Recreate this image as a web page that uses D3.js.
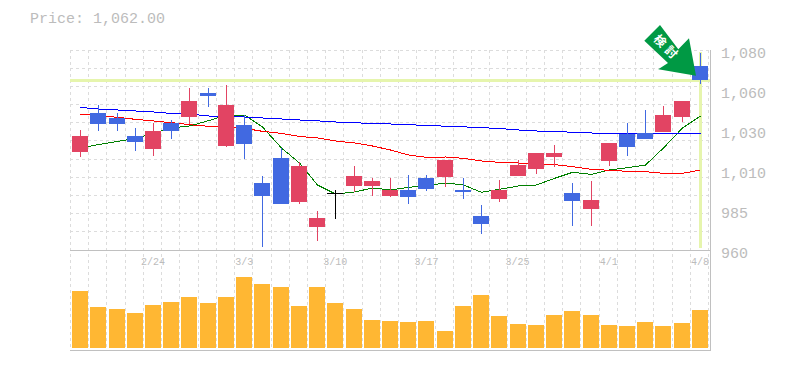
<!DOCTYPE html>
<html lang='en'>
	<head>
		<meta charset='utf-8'>
		<title>Price chart</title>
		<script src="https://cdn.jsdelivr.net/npm/d3@7/dist/d3.min.js"></script>
		<style>
			html, body { margin: 0; padding: 0; background: #fff; }
			svg { display: block; }
			text { font-family: 'Liberation Mono', monospace; fill: #bcbcbc; }
		</style>
	</head>
	<body>
		<svg id='chart' width='785' height='370'></svg>
		<script>
			var dates = ['2/18','2/19','2/20','2/21','2/24','2/25','2/26','2/27','2/28','3/3','3/4','3/5','3/6','3/7','3/10','3/11','3/12','3/13','3/14','3/17','3/18','3/19','3/21','3/24','3/25','3/26','3/27','3/28','3/31','4/1','4/2','4/3','4/4','4/7','4/8'];
			var dateTicks = ['2/24','3/3','3/10','3/17','3/25','4/1','4/8'];

			var open = [1018.8,1042.2,1039.2,1028.4,1020.6,1036.2,1039.8,1054.2,1022.4,1035,1000.2,1015.2,988.8,973.8,994.2,998.4,998.4,992.4,996,1003.2,1003.8,996,980.4,990.6,1004.4,1008.6,1015.8,994.2,984.6,1013.4,1029.6,1030.2,1030.8,1039.8,1070.4];
			var close = [1028.4,1035.6,1035.6,1024.8,1031.4,1031.4,1049.4,1052.4,1047,1023.6,992.4,987.6,1010.4,979.2,994.2,1004.4,1001.4,996,991.8,996.6,1014,994.8,975.6,996,1011,1018.2,1018.2,989.4,990,1024.2,1021.8,1026.6,1041,1049.4,1062];
			var high = [1032,1047,1042.2,1033.2,1036.2,1038,1057.2,1057.2,1059,1041,1004.4,1021.2,1012.8,983.4,996,1010.4,1003.2,1003.2,1005,1005,1014,1003.2,987,1002,1014,1018.2,1023,1000.2,1001.4,1024.2,1036.2,1044,1046.4,1049.4,1078.2];
			var low = [1015.8,1031.4,1031.4,1019.4,1016.4,1026.6,1035.6,1045.8,1021.8,1014.6,961.8,987.6,987.6,965.4,978.6,994.8,992.4,991.8,987.6,995.4,997.8,990.6,969.6,988.8,1004.4,1005.6,1009.8,974.4,974.4,1010.4,1016.4,1026.6,1030.8,1036.8,1059.6];

			var maLong = [1045.5,1044.6,1044,1043.4,1042.8,1041.9,1041.6,1040.4,1040.1,1039.8,1039.2,1038.6,1038,1037.5,1036.8,1036.3,1036,1035.6,1035.2,1034.7,1034.3,1033.9,1033.4,1032.9,1032,1031.4,1031.2,1030.6,1030.2,1030,1030,1030,1030,1030,1030];
			var maMid = [1041.4,1040.8,1039.6,1038.4,1037.4,1036.4,1035.2,1034.2,1034.2,1033,1031.2,1030,1028.1,1027.2,1025.4,1024.2,1022.4,1020,1017,1015.6,1015.8,1015,1013.4,1012.6,1012.2,1011.6,1011.2,1010,1008.4,1007.8,1007.2,1007,1006,1006,1008];
			var maShort = [1021.2,1023.3,1025.1,1026.9,1030.2,1033.2,1034.4,1037.6,1041,1041,1033.8,1021.2,1012.2,999,993.6,994.8,997.2,996,997.6,998.6,1000.2,999,994.6,996.4,998.4,999,1003,1006.6,1005.4,1008,1009.4,1011,1021.2,1033.2,1040.4];

			var volume = [57,41,39,35,43,46,51,45,51,71,64,61,42,61,45,39,28,27,26,27,17,42,53,32,24,23,33,37,33,23,22,26,22,25,38];

			var priceTicks = [1080,1056,1032,1008,984,960];
			var priceLabels = ['1,080','1,060','1,030','1,010','985','960'];
			var lastPrice = 1062;
			var arrowLabel = '検討';

			var svg = d3.select('#chart');

			var x = d3.scaleBand().domain(d3.range(dates.length)).range([71, 709]);
			var y = d3.scaleLinear().domain([960, 1080]).range([250, 50]);
			var yVol = d3.scaleLinear().domain([0, 100]).range([348, 248]);
			var barX = function(i){ return Math.round(x(i) + 1.1); };
			var midX = function(i){ return barX(i) + 8.5; };

			// grid
			var grid = svg.append('g')
				.attr('stroke', '#dcdcdc')
				.attr('stroke-dasharray', '3,3')
				.attr('shape-rendering', 'crispEdges');
			grid.selectAll('.h')
				.data(d3.range(0, 11))
				.enter().append('line')
				.attr('x1', 70).attr('x2', 709)
				.attr('y1', function(d){ return Math.floor(y(1080 - d * 120 / 11)) + 0.5; })
				.attr('y2', function(d){ return Math.floor(y(1080 - d * 120 / 11)) + 0.5; });
			grid.selectAll('.v')
				.data(d3.range(0, dates.length + 1))
				.enter().append('line')
				.attr('y1', 50).attr('y2', 350)
				.attr('x1', function(d){ return Math.round(71 + d * x.step()) - 0.5; })
				.attr('x2', function(d){ return Math.round(71 + d * x.step()) - 0.5; });

			// last price lines
			svg.append('line')
				.attr('x1', 70).attr('x2', 710)
				.attr('y1', y(lastPrice) + 0.5).attr('y2', y(lastPrice) + 0.5)
				.attr('stroke', '#e6f5ad').attr('stroke-width', 3);
			svg.append('line')
				.attr('x1', midX(34)).attr('x2', midX(34))
				.attr('y1', 52).attr('y2', 248)
				.attr('stroke', '#e6f5ad').attr('stroke-width', 3);

			// moving averages
			var line = d3.line()
				.x(function(d, i){ return midX(i); })
				.y(function(d){ return y(d); });
			[[maShort, '#008000'], [maMid, '#ff0000'], [maLong, '#0000ff']].forEach(function(s){
				svg.append('path')
					.attr('d', line(s[0]))
					.attr('fill', 'none')
					.attr('stroke', s[1])
					.attr('shape-rendering', 'crispEdges');
			});

			// candles
			var candleColor = function(i){
				if(close[i] > open[i]){
					return '#e24463';
				}
				if(close[i] < open[i]){
					return '#4169e1';
				}
				return '#000000';
			};
			var candles = svg.append('g').attr('shape-rendering', 'crispEdges');
			candles.selectAll('.wick')
				.data(d3.range(dates.length))
				.enter().append('line')
				.attr('x1', midX).attr('x2', midX)
				.attr('y1', function(i){ return y(high[i]); })
				.attr('y2', function(i){ return y(low[i]); })
				.attr('stroke', candleColor);
			candles.selectAll('.body')
				.data(d3.range(dates.length))
				.enter().append('rect')
				.attr('x', barX)
				.attr('width', 16)
				.attr('y', function(i){ return y(Math.max(open[i], close[i])); })
				.attr('height', function(i){ return Math.max(1, Math.abs(y(open[i]) - y(close[i]))); })
				.attr('fill', candleColor);

			// volume
			svg.append('g').attr('shape-rendering', 'crispEdges')
				.selectAll('rect')
				.data(volume)
				.enter().append('rect')
				.attr('x', function(d, i){ return barX(i); })
				.attr('width', 16)
				.attr('y', function(d){ return yVol(d); })
				.attr('height', function(d){ return yVol(0) - yVol(d); })
				.attr('fill', '#ffb733');

			// frame
			var frame = svg.append('g').attr('stroke', '#c0c0c0').attr('shape-rendering', 'crispEdges');
			frame.append('line').attr('x1', 70).attr('x2', 711).attr('y1', 250.5).attr('y2', 250.5);
			frame.append('line').attr('x1', 70).attr('x2', 711).attr('y1', 350.5).attr('y2', 350.5);
			frame.append('line').attr('x1', 710.5).attr('x2', 710.5).attr('y1', 50).attr('y2', 351);

			// axes
			var axisY = d3.axisRight(y)
				.tickValues(priceTicks)
				.tickSize(0)
				.tickPadding(0)
				.tickFormat(function(d, i){ return priceLabels[i]; });
			svg.append('g')
				.attr('transform', 'translate(721, 3)')
				.call(axisY)
				.call(function(g){ g.select('.domain').remove(); })
				.selectAll('text')
				.attr('font-size', 15)
				.style('font-family', "'Liberation Mono', monospace")
				.style('fill', '#bcbcbc');

			var axisX = d3.axisBottom(x)
				.tickValues(dateTicks.map(function(d){ return dates.indexOf(d); }))
				.tickSize(0)
				.tickPadding(0)
				.tickFormat(function(d){ return dates[d]; });
			svg.append('g')
				.attr('transform', 'translate(0, 258)')
				.call(axisX)
				.call(function(g){ g.select('.domain').remove(); })
				.selectAll('text')
				.attr('font-size', 10)
				.style('font-family', "'Liberation Mono', monospace")
				.style('fill', '#bcbcbc');

			svg.append('text')
				.attr('x', 30).attr('y', 23)
				.attr('font-size', 15)
				.text('Price: ' + d3.format(',.2f')(lastPrice));

			// arrow mark
			var arrowPoints = [[660,25],[644.3,40.7],[668,63],[658.3,69.3],[696,75.7],[689,38.3],[678.3,49.3]];
			svg.append('polygon')
				.attr('points', arrowPoints.join(' '))
				.attr('fill', '#009944');
			svg.append('text')
				.attr('transform', 'translate(667, 48) rotate(45)')
				.attr('text-anchor', 'middle')
				.attr('dy', '0.36em')
				.style('font-family', "'Noto Sans CJK JP', sans-serif")
				.style('font-size', '12px')
				.style('letter-spacing', '4px')
				.style('font-weight', 'bold')
				.style('fill', '#ffffff')
				.text(arrowLabel);
		</script>
	</body>
</html>
